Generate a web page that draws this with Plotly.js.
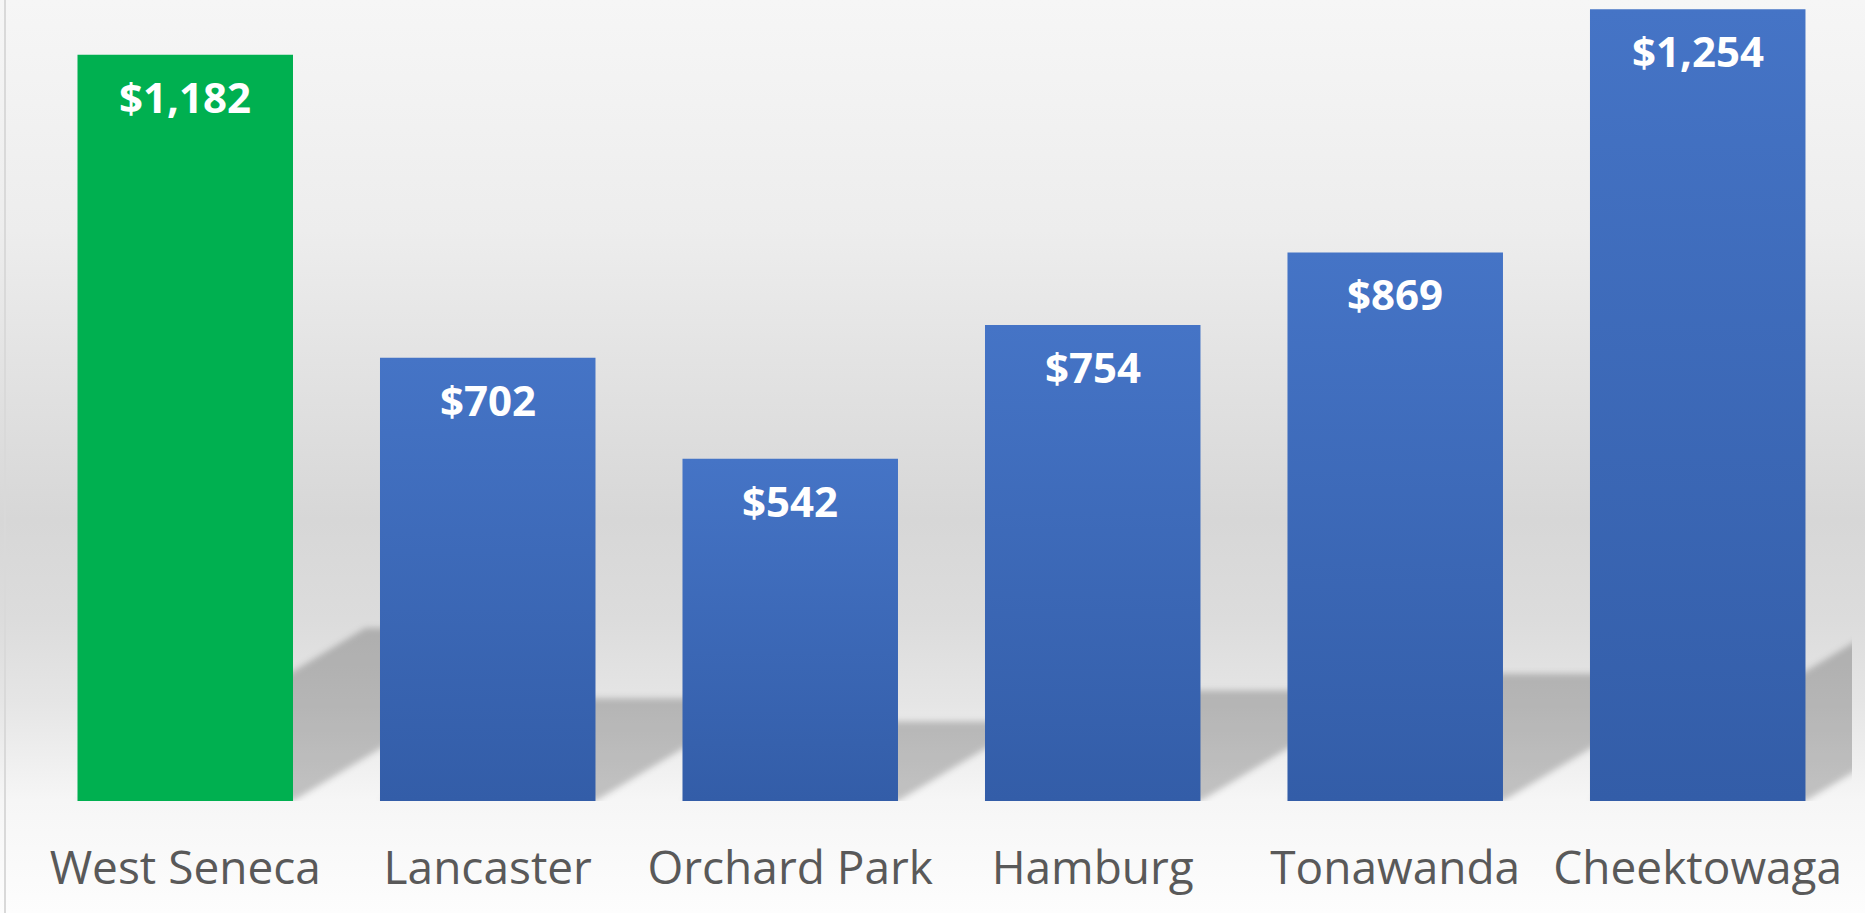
<!DOCTYPE html>
<html>
<head>
<meta charset="utf-8">
<script src="https://cdn.plot.ly/plotly-3.0.1.min.js"></script>
<style>
  html, body { margin: 0; padding: 0; background: #ffffff; }
  #wrap { position: relative; width: 1865px; height: 913px;
    background: linear-gradient(to bottom, #f6f6f6 0px, #ededed 230px, #d7d7d7 520px, #dcdcdc 620px, #e5e5e5 700px, #efefef 760px, #f6f6f6 801px, #fdfdfd 913px); }
  #edge { position: absolute; left: 4px; top: 0; width: 2px; height: 913px; background: #d9d9d9; }
  #chart { position: absolute; left: 0; top: 0; width: 1865px; height: 913px; }
</style>
</head>
<body>
<div id="wrap"><div id="edge"></div><div id="chart"></div></div>
<script>
// ---- data ----
const categories = ["West Seneca", "Lancaster", "Orchard Park", "Hamburg", "Tonawanda", "Cheektowaga"];
const values = [1182, 702, 542, 754, 869, 1254];
const barColors = ["#00B050", "#4472C4", "#4472C4", "#4472C4", "#4472C4", "#4472C4"];
const valueLabels = values.map(v => "$" + v.toLocaleString("en-US"));

// ---- styling constants ----
const idx = categories.map((c, i) => i);
const barWidth = 0.7124;
const half = barWidth / 2;
const shadowHeightK = 0.232;   // shadow height as fraction of value
const shadowShiftK = 0.000805; // horizontal shear (category units per value unit)

const shapes = values.map((v, i) => {
  const x0 = i - half, x1 = i + half;
  const s = shadowShiftK * v, h = shadowHeightK * v;
  return {
    type: "path", xref: "x", yref: "y", layer: "below",
    path: `M ${x0},0 L ${x1},0 L ${x1 + s},${h} L ${x0 + s},${h} Z`,
    fillcolor: "rgba(0,0,0,0.21)", line: { width: 0 }
  };
});

const annotations = values.map((v, i) => ({
  x: i, y: v, xref: "x", yref: "y", text: valueLabels[i],
  showarrow: false, yanchor: "top", yshift: -11,
  font: { family: "Open Sans", size: 42, color: "#ffffff", weight: 700 }
}));

const trace = {
  type: "bar", x: idx, y: values, width: barWidth,
  marker: { color: barColors, line: { width: 0 } },
  hoverinfo: "skip"
};

const layout = {
  width: 1865, height: 913,
  margin: { l: 34, r: 13, t: 0, b: 112, pad: 0 },
  paper_bgcolor: "rgba(0,0,0,0)", plot_bgcolor: "rgba(0,0,0,0)",
  showlegend: false,
  xaxis: {
    range: [-0.5, 5.51], tickvals: idx, ticktext: categories, tickangle: 0,
    showgrid: false, zeroline: false, showline: false, ticks: "",
    ticklabelstandoff: 36,
    tickfont: { family: "Open Sans", size: 46, color: "#595959" }
  },
  yaxis: { range: [0, 1268.8], visible: false, showgrid: false, zeroline: false },
  shapes: shapes,
  annotations: annotations
};

Plotly.newPlot("chart", [trace], layout, { displayModeBar: false, staticPlot: true }).then(gd => {
  const NS = "http://www.w3.org/2000/svg";
  const svg = gd.querySelector(".main-svg");
  let defs = svg.querySelector("defs");
  if (!defs) { defs = document.createElementNS(NS, "defs"); svg.insertBefore(defs, svg.firstChild); }
  const grad = document.createElementNS(NS, "linearGradient");
  grad.setAttribute("id", "blueGrad");
  grad.setAttribute("x1", "0"); grad.setAttribute("y1", "0");
  grad.setAttribute("x2", "0"); grad.setAttribute("y2", "1");
  [["0", "#4574C6"], ["1", "#335DA8"]].forEach(([o, c]) => {
    const st = document.createElementNS(NS, "stop");
    st.setAttribute("offset", o); st.setAttribute("stop-color", c);
    grad.appendChild(st);
  });
  defs.appendChild(grad);
  const filt = document.createElementNS(NS, "filter");
  filt.setAttribute("id", "shadowBlur");
  filt.setAttribute("x", "-20%"); filt.setAttribute("y", "-20%");
  filt.setAttribute("width", "140%"); filt.setAttribute("height", "140%");
  const gb = document.createElementNS(NS, "feGaussianBlur");
  gb.setAttribute("stdDeviation", "3");
  filt.appendChild(gb);
  defs.appendChild(filt);

  gd.querySelectorAll(".barlayer .point path").forEach((p, i) => {
    if (barColors[i] === "#4472C4") p.style.fill = "url(#blueGrad)";
  });
  gd.querySelectorAll(".shapelayer path").forEach(p => {
    p.setAttribute("filter", "url(#shadowBlur)");
  });
});
</script>
</body>
</html>
